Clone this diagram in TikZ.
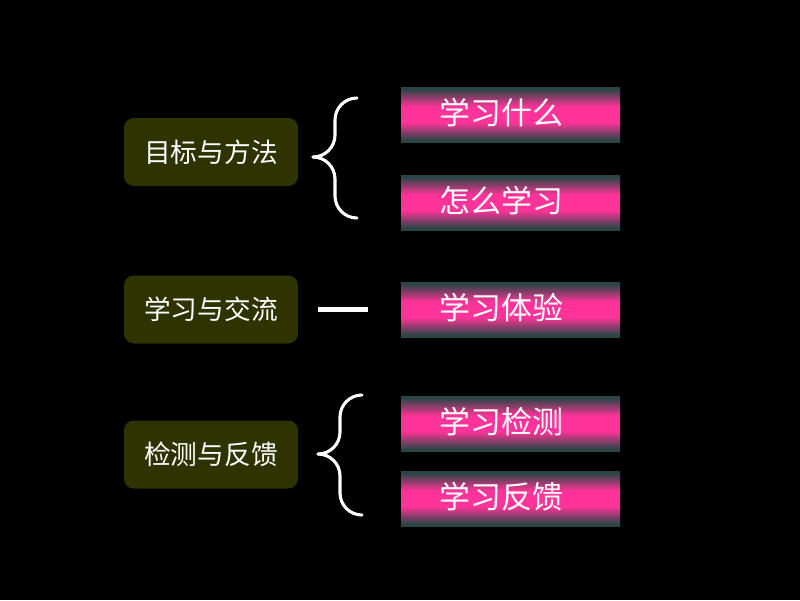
\documentclass[tikz,border=0pt]{standalone}
\usepackage{fontspec}
\newfontfamily\cjk{Noto Sans CJK SC}
\usetikzlibrary{calc}
\definecolor{olivebox}{HTML}{2E3300}
\definecolor{barteal}{HTML}{2B4545}
\definecolor{barpink}{HTML}{FF3399}
\pgfdeclareverticalshading{barshade}{100bp}{color(0bp)=(barteal); color(25bp)=(barteal); color(27bp)=(barteal); color(43bp)=(barpink); color(57bp)=(barpink); color(73bp)=(barteal); color(75bp)=(barteal); color(100bp)=(barteal)}

\begin{document}
\begin{tikzpicture}[
  topic/.style={fill=olivebox,rounded corners=7pt,minimum width=4.35cm,minimum height=1.7cm,
                text=white,font=\cjk\fontsize{19}{22}\selectfont},
  bar/.style={shade,shading=barshade,minimum width=5.475cm,minimum height=1.375cm,
              text=white,font=\cjk\fontsize{22}{26}\selectfont,
              text height=0.68cm,text depth=0.16cm,execute at end node={\hspace*{0.45cm}}},
  curly/.style={white,line width=2.2pt,line cap=round,rounded corners=0.55cm},
  link/.style={white,line width=3.5pt}]
\fill[black] (0,0) rectangle (20,-15);
% left column
\node[topic] (mf) at (5.275,-3.8)    {目标与方法};
\node[topic] (jl) at (5.275,-7.7375) {学习与交流};
\node[topic] (fk) at (5.275,-11.3625) {检测与反馈};
% right column
\node[bar] (b1) at (12.7625,-2.8625) {学习什么};
\node[bar] (b2) at (12.7625,-5.0625) {怎么学习};
\node[bar] (b3) at (12.7625,-7.7375) {学习体验};
\node[bar] (b4) at (12.7625,-10.5875) {学习检测};
\node[bar] (b5) at (12.7625,-12.4625) {学习反馈};
% braces and dash
\coordinate (t1) at (8.925,-2.45);
\coordinate (p1) at (7.825,-3.925);
\coordinate (u1) at (8.925,-5.45);
\draw[curly] (t1) -| ($(p1)+(0.55,0)$) -- (p1);
\draw[curly] (u1) -| ($(p1)+(0.55,0)$) -- (p1);
\coordinate (t2) at (9.05,-9.875);
\coordinate (p2) at (7.95,-11.35);
\coordinate (u2) at (9.05,-12.875);
\draw[curly] (t2) -| ($(p2)+(0.55,0)$) -- (p2);
\draw[curly] (u2) -| ($(p2)+(0.55,0)$) -- (p2);
\draw[link,shorten <=0.5cm,shorten >=0.825cm] (jl) -- (b3);
\end{tikzpicture}
\end{document}
